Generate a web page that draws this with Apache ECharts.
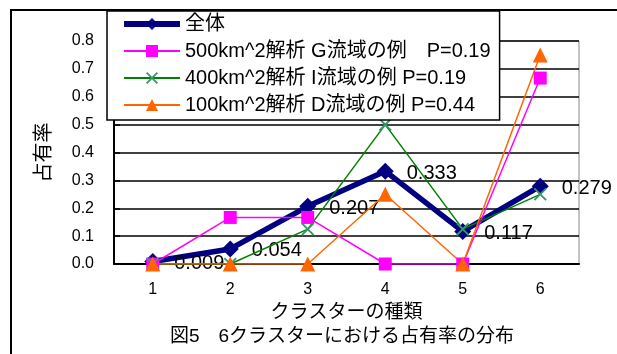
<!DOCTYPE html>
<html>
<head>
<meta charset="utf-8">
<script src="https://cdn.jsdelivr.net/npm/echarts@6/dist/echarts.min.js"></script>
<style>
  html, body { margin: 0; padding: 0; background: #fff; }
  #chart { width: 617px; height: 354px; }
</style>
</head>
<body>
<div id="chart"></div>
<script>
// Cluster numbers on the x axis
const clusters = ['1', '2', '3', '4', '5', '6'];

// Share of each cluster (占有率)
const seriesNames = [
  '全体',
  '500km^2解析 G流域の例　P=0.19',
  '400km^2解析 I流域の例 P=0.19',
  '100km^2解析 D流域の例 P=0.44'
];
const allBasins = [0.009, 0.054, 0.207, 0.333, 0.117, 0.279];
const basinG500 = [0, 0.167, 0.167, 0, 0, 0.667];
const basinI400 = [0, 0, 0.125, 0.5, 0.125, 0.25];
const basinD100 = [0, 0, 0, 0.25, 0, 0.75];

// Y axis range and step
const yMin = 0;
const yMax = 0.8;
const yStep = 0.1;

const FONT = '"Liberation Sans", Arial, "Noto Sans CJK JP", sans-serif';
const CROSS = 'path://M0,1L1,0L5,4L9,0L10,1L6,5L10,9L9,10L5,6L1,10L0,9L4,5Z';

const chart = echarts.init(document.getElementById('chart'), null, { renderer: 'canvas' });

chart.setOption({
  animation: false,
  backgroundColor: '#fff',
  textStyle: { fontFamily: FONT, color: '#000' },
  title: {
    text: '図5　6クラスターにおける占有率の分布',
    left: 337,
    textAlign: 'center',
    top: 322,
    textStyle: { fontFamily: FONT, fontSize: 19, fontWeight: 'normal', color: '#000' }
  },
  graphic: [{
    type: 'rect',
    shape: { x: 11, y: 10, width: 700, height: 400 },
    style: { fill: 'none', stroke: '#000', lineWidth: 2 },
    silent: true,
    z: -1
  }],
  grid: {
    left: 114, right: 38, top: 41, bottom: 90,
    show: true, borderColor: '#888', borderWidth: 1
  },
  legend: {
    orient: 'vertical',
    left: 107,
    top: 11,
    padding: [3, 9, 5, 14],
    itemWidth: 56,
    itemHeight: 15,
    itemGap: 7,
    backgroundColor: '#fff',
    borderColor: '#000',
    borderWidth: 1.5,
    textStyle: { fontFamily: FONT, fontSize: 20, color: '#000', lineHeight: 20 },
    data: [
      { name: seriesNames[0], lineStyle: { width: 6 } },
      seriesNames[1],
      seriesNames[2],
      seriesNames[3]
    ]
  },
  xAxis: {
    type: 'category',
    data: clusters,
    boundaryGap: true,
    name: 'クラスターの種類',
    nameLocation: 'middle',
    nameGap: 32,
    nameTextStyle: { fontFamily: FONT, fontSize: 19, color: '#000' },
    axisLine: { lineStyle: { color: '#000', width: 2 } },
    axisTick: { inside: true, length: 6, lineStyle: { color: '#000', width: 1.5 } },
    axisLabel: { fontFamily: FONT, fontSize: 16, color: '#000', margin: 18 },
    splitLine: { show: false }
  },
  yAxis: {
    type: 'value',
    min: yMin,
    max: yMax,
    interval: yStep,
    name: '占有率',
    nameLocation: 'middle',
    nameRotate: 90,
    nameGap: 60,
    nameTextStyle: { fontFamily: FONT, fontSize: 20, color: '#000' },
    axisLine: { show: true, lineStyle: { color: '#000', width: 2 } },
    axisTick: { show: true, inside: true, length: 6, lineStyle: { color: '#000', width: 1.5 } },
    axisLabel: { fontFamily: FONT, fontSize: 16, color: '#000', margin: 20,
      formatter: v => v.toFixed(1) },
    splitLine: { show: true, lineStyle: { color: '#000', width: 1.5 } }
  },
  series: [
    {
      name: seriesNames[0],
      type: 'line',
      data: allBasins,
      symbol: 'diamond',
      symbolSize: 17,
      color: '#000080',
      lineStyle: { color: '#000080', width: 5.5 },
      itemStyle: { color: '#000080' },
      label: {
        show: true,
        position: 'right',
        distance: 13,
        offset: [0, 2],
        fontFamily: FONT,
        fontSize: 20,
        color: '#000',
        formatter: p => p.value.toFixed(3)
      },
      z: 2
    },
    {
      name: seriesNames[1],
      type: 'line',
      data: basinG500,
      symbol: 'rect',
      symbolSize: 13,
      color: '#ff00ff',
      lineStyle: { color: '#ff00ff', width: 1.5 },
      itemStyle: { color: '#ff00ff' },
      z: 3
    },
    {
      name: seriesNames[2],
      type: 'line',
      data: basinI400,
      symbol: CROSS,
      symbolSize: 13,
      color: '#339966',
      lineStyle: { color: '#008000', width: 1.5 },
      itemStyle: { color: '#339966' },
      z: 3
    },
    {
      name: seriesNames[3],
      type: 'line',
      data: basinD100,
      symbol: 'triangle',
      symbolSize: 15,
      color: '#ff6600',
      lineStyle: { color: '#ff6600', width: 1.5 },
      itemStyle: { color: '#ff6600' },
      z: 3
    }
  ]
});
</script>
</body>
</html>
